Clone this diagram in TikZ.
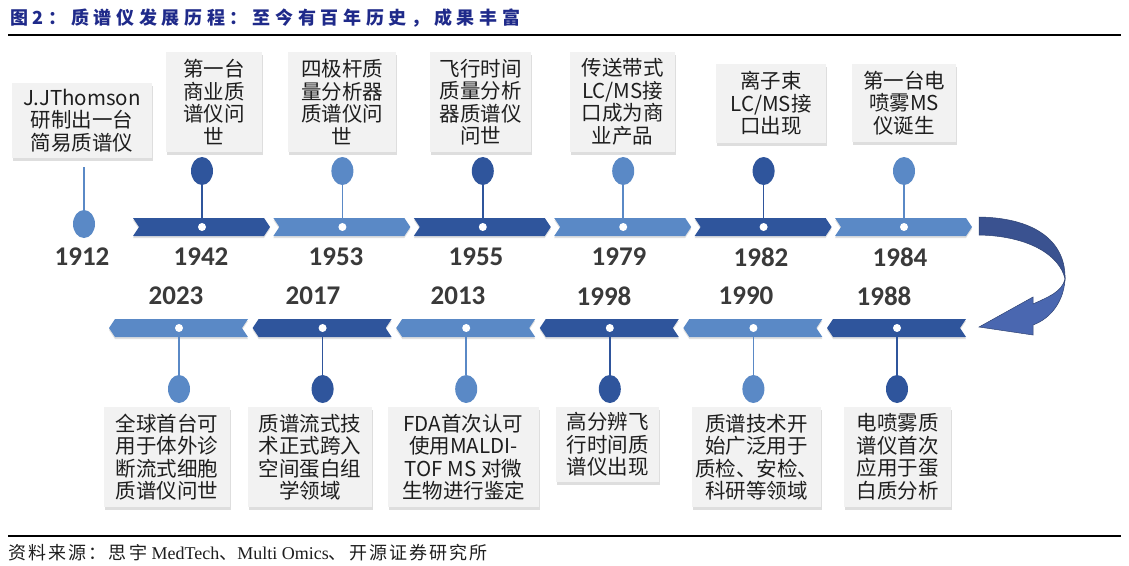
\documentclass[tikz,border=0pt]{standalone}
\usepackage{fontspec}
\setmainfont{Liberation Serif}
\newfontfamily\cjk{Noto Sans CJK SC}
\newfontfamily\cjkt[LetterSpace=26]{Noto Sans CJK SC}
\newfontfamily\cjkf[LetterSpace=12]{Noto Sans CJK SC}
\newfontfamily\yearfont{Carlito}
\usetikzlibrary{shapes.geometric,shadows}
\definecolor{dkb}{HTML}{2F559C}
\definecolor{ltb}{HTML}{5A89C6}
\definecolor{boxgray}{HTML}{F2F2F2}
\definecolor{txt}{HTML}{1E1E1E}
\definecolor{yr}{HTML}{3A3A3A}
\definecolor{navy}{HTML}{1F2A8A}
\definecolor{arrdk}{HTML}{3A5290}
\definecolor{arrlt}{HTML}{4A67B0}
\tikzset{
  gbox/.style={fill=boxgray, inner sep=0pt, align=center, text=txt,
    font=\cjk\fontsize{20.5}{22.5}\selectfont,
    general shadow={fill=black, opacity=.13, shadow yshift=-2.5pt, shadow xshift=0.8pt}},
  ell/.style={ellipse, minimum width=22pt, minimum height=28pt, inner sep=0pt},
  wdot/.style={circle, fill=white, minimum size=8pt, inner sep=0pt},
  stem/.style={line width=1.6pt},
  year/.style={font=\yearfont\bfseries\fontsize{27}{27}\selectfont, text=yr},
  rule/.style={line width=1.3pt, black}
}
\begin{document}
\begin{tikzpicture}[x=1pt,y=-1pt]
\useasboundingbox[fill=white] (0,0) rectangle (1129,565);

% title
\node[anchor=west, text=navy, font=\cjkt\bfseries\fontsize{18}{18}\selectfont, inner sep=0] (title) at (10,18) {图2：质谱仪发展历程：至今有百年历史，成果丰富};
\coordinate (tl) at (8,35); \coordinate (tr) at (1121,35);
\draw[rule] (tl) -- (tr);

% top chevrons (pointing right)
\foreach \x/\c in {133/dkb,273.4/ltb,413.8/dkb,554.2/ltb,694.6/dkb,835/ltb}{
  \fill[\c, general shadow={fill=black, opacity=.12, shadow yshift=-2pt}]
    (\x,218) -- ({\x+131},218) -- ({\x+137},227) -- ({\x+131},236) -- (\x,236) -- ({\x+6},227) -- cycle;
}
% bottom chevrons (pointing left)
\foreach \x/\c in {109/ltb,252.6/dkb,396.2/ltb,539.8/dkb,683.4/ltb,827/dkb}{
  \fill[\c, general shadow={fill=black, opacity=.12, shadow yshift=-2pt}]
    (\x,328) -- ({\x+6},319) -- ({\x+139},319) -- ({\x+133},328) -- ({\x+139},337) -- ({\x+6},337) -- cycle;
}

% curved arrow
\fill[arrdk, draw=arrdk!80!black, line width=0.5pt]
  (979,217) .. controls (1040,218) and (1066,245) .. (1065,279)
  .. controls (1060,256) and (1030,236) .. (979,235) -- cycle;
\fill[arrlt, draw=arrdk!80!black, line width=0.5pt]
  (1065,279) .. controls (1064,300) and (1052,318) .. (1033,325)
  -- (1033,335) -- (979,327) -- (1033,297) -- (1033,304)
  .. controls (1048,297) and (1062,292) .. (1065,279) -- cycle;

% ---------- top row ----------
% 1912
\node[ell, fill=ltb] (e1912) at (84,224) {};
\coordinate (s1912) at (84,167);
\draw[stem, ltb] (s1912) -- (e1912);
\node[gbox, minimum width=140pt, minimum height=75pt] (b1912) at (82,120.5) {J.JThomson\\研制出一台\\简易质谱仪};
\node[year] (y1912) at (82,257) {1912};

% generic top events
\foreach \n/\x/\c/\yx in {1942/202/dkb/201,1953/342.4/ltb/336,1955/482.8/dkb/476,1979/623.2/ltb/619,1982/763.6/dkb/761,1984/904/ltb/900}{
  \node[ell, fill=\c] (e\n) at (\x,171) {};
  \node[wdot] (d\n) at (\x,227) {};
  \draw[stem, \c] (e\n) -- (d\n);
  \node[year] (y\n) at (\yx,257) {\n};
}
\node[gbox, minimum width=96pt, minimum height=100pt] (b1942) at (214,102) {第一台\\商业质\\谱仪问\\世};
\node[gbox, minimum width=108pt, minimum height=100pt] (b1953) at (342,102) {四极杆质\\量分析器\\质谱仪问\\世};
\node[gbox, minimum width=101pt, minimum height=100pt] (b1955) at (480.5,102) {飞行时间\\质量分析\\器质谱仪\\问世};
\node[gbox, minimum width=105pt, minimum height=100pt] (b1979) at (622.5,102) {传送带式\\LC/MS接\\口成为商\\业产品};
\node[gbox, minimum width=110pt, minimum height=79pt] (b1982) at (771,103.5) {离子束\\LC/MS接\\口出现};
\node[gbox, minimum width=104pt, minimum height=78pt] (b1984) at (904,103) {第一台电\\喷雾MS\\仪诞生};

% ---------- bottom row ----------
\foreach \n/\x/\c/\yx in {2023/179/ltb/176,2017/322.6/dkb/313,2013/466.2/ltb/458,1998/609.8/dkb/604,1990/753.4/ltb/746,1988/897/dkb/884}{
  \node[ell, fill=\c] (e\n) at (\x,389) {};
  \node[wdot] (d\n) at (\x,328) {};
  \draw[stem, \c] (d\n) -- (e\n);
  \node[year] (y\n) at (\yx,296) {\n};
}
\node[gbox, minimum width=126pt, minimum height=100pt] (b2023) at (167,457) {全球首台可\\用于体外诊\\断流式细胞\\质谱仪问世};
\node[gbox, minimum width=124pt, minimum height=100pt] (b2017) at (310,457) {质谱流式技\\术正式跨入\\空间蛋白组\\学领域};
\node[gbox, minimum width=151pt, minimum height=100pt] (b2013) at (463.5,457) {FDA首次认可\\使用MALDI-\\TOF MS 对微\\生物进行鉴定};
\node[gbox, minimum width=103pt, minimum height=75pt] (b1998) at (607.5,444.5) {高分辨飞\\行时间质\\谱仪出现};
\node[gbox, minimum width=129pt, minimum height=100pt] (b1990) at (756.5,457) {质谱技术开\\始广泛用于\\质检、安检、\\科研等领域};
\node[gbox, minimum width=107pt, minimum height=100pt] (b1988) at (897.5,457) {电喷雾质\\谱仪首次\\应用于蛋\\白质分析};

% footer
\coordinate (bl) at (8,536); \coordinate (br) at (1121,536);
\draw[rule] (bl) -- (br);
\node[anchor=west, inner sep=0, text=txt, font=\fontsize{18}{18}\selectfont] (foot) at (8,553)
  {{\cjkf 资料来源：思宇} MedTech{\cjkf 、}Multi Omics{\cjkf 、开源证券研究所}};
\end{tikzpicture}
\end{document}
